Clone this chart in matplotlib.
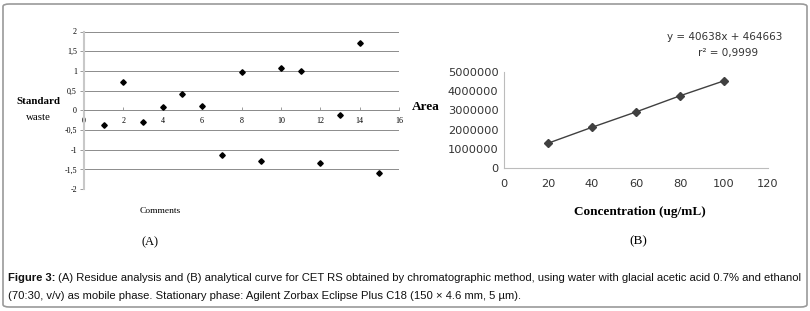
import matplotlib.pyplot as plt
from matplotlib.patches import FancyBboxPatch
from matplotlib.ticker import FuncFormatter

# (A) residue analysis
res_x = [1, 2, 3, 4, 5, 6, 7, 8, 9, 10, 11, 12, 13, 14, 15]
res_y = [-0.37, 0.71, -0.30, 0.08, 0.42, 0.12, -1.13, 0.96, -1.28, 1.08,
         1.00, -1.33, -0.12, 1.70, -1.60]

# (B) analytical curve
conc = [20, 40, 60, 80, 100]
area = [1290000, 2120000, 2920000, 3760000, 4540000]

W, H = 810, 311
fig = plt.figure(figsize=(W / 100, H / 100), dpi=100)

# rounded frame around the whole figure
frame = FancyBboxPatch((3 / W, 4 / H), 804 / W, 303 / H,
                       boxstyle="round,pad=0,rounding_size=0.008",
                       transform=fig.transFigure, fill=False,
                       ec="#9a9a9a", lw=1.2)
fig.patches.append(frame)

serif = "Liberation Serif"

### chart A
axA = fig.add_axes([84 / W, 1 - 189 / H, 315 / W, 157.5 / H])
axA.plot(res_x, res_y, "D", color="black", ms=2.8, ls="none", zorder=3)
axA.set_xlim(0, 16)
axA.set_ylim(-2, 2)
axA.set_yticks([2, 1.5, 1, 0.5, 0, -0.5, -1, -1.5, -2])
axA.set_xticks(range(0, 17, 2))
axA.yaxis.set_major_formatter(FuncFormatter(lambda v, p: ("%g" % v).replace(".", ",")))
axA.grid(axis="y", color="#8c8c8c", lw=0.7)
axA.spines["top"].set_visible(False)
axA.spines["right"].set_visible(False)
axA.spines["left"].set_color("#c8c8c8")
axA.spines["left"].set_linewidth(1.5)
axA.spines["bottom"].set_position(("data", 0))
axA.spines["bottom"].set_color("#8c8c8c")
axA.spines["bottom"].set_linewidth(0.7)
axA.tick_params(axis="y", length=3, width=0.6, color="#8c8c8c", labelsize=5.8, pad=2)
axA.tick_params(axis="x", length=2, width=0.6, color="#8c8c8c", labelsize=5.8, pad=5,
                direction="in")
for lab in axA.get_xticklabels() + axA.get_yticklabels():
    lab.set_family(serif)
axA.set_facecolor("none")

fig.text(38 / W, 1 - 101 / H, "Standard", family=serif, weight="bold",
         fontsize=7.8, ha="center", va="center")
fig.text(38 / W, 1 - 117 / H, "waste", family=serif, fontsize=7.8,
         ha="center", va="center")
fig.text(160 / W, 1 - 211 / H, "Comments", family=serif, fontsize=6.8,
         ha="center", va="center")
fig.text(150 / W, 1 - 242 / H, "(A)", family=serif, fontsize=9,
         ha="center", va="center")

### chart B
axB = fig.add_axes([504 / W, 1 - 168 / H, 264 / W, 96 / H])
axB.plot(conc, area, "-D", color="#404040", ms=4.5, lw=1.0, zorder=3)
axB.set_xlim(0, 120)
axB.set_ylim(0, 5000000)
axB.set_xticks(range(0, 121, 20))
axB.set_yticks(range(0, 5000001, 1000000))
axB.yaxis.set_major_formatter(FuncFormatter(lambda v, p: "%d" % v))
for s in ["top", "right"]:
    axB.spines[s].set_visible(False)
for s in ["left", "bottom"]:
    axB.spines[s].set_color("#bcbcbc")
axB.tick_params(length=0, labelsize=8.2, labelcolor="#333333")
axB.tick_params(axis="x", pad=8)
axB.tick_params(axis="y", pad=4)
axB.set_facecolor("none")

fig.text(725 / W, 1 - 37 / H, "y = 40638x + 464663", fontsize=7.5,
         ha="center", va="center", color="#333333")
fig.text(728 / W, 1 - 53 / H, "r\u00b2 = 0,9999", fontsize=7.5,
         ha="center", va="center", color="#333333")
fig.text(426 / W, 1 - 107 / H, "Area", family=serif, weight="bold",
         fontsize=9.5, ha="center", va="center")
fig.text(640 / W, 1 - 212 / H, "Concentration (ug/mL)", family=serif,
         weight="bold", fontsize=9.5, ha="center", va="center")
fig.text(638 / W, 1 - 241 / H, "(B)", family=serif, fontsize=9.5,
         ha="center", va="center")

### caption
cap1 = ("(A) Residue analysis and (B) analytical curve for CET RS obtained by "
        "chromatographic method, using water with glacial acetic acid 0.7% and ethanol")
cap2 = ("(70:30, v/v) as mobile phase. Stationary phase: Agilent Zorbax Eclipse "
        "Plus C18 (150 \u00d7 4.6 mm, 5 \u00b5m).")
t = fig.text(8 / W, 1 - 278 / H, "Figure 3:", family="Liberation Sans",
             weight="bold", fontsize=8.1, va="center", color="#111111")
fig.canvas.draw()
bb = t.get_window_extent()
fig.text((bb.x1 + 3) / W, 1 - 278 / H, cap1, family="Liberation Sans",
         fontsize=8.1, va="center", color="#111111")
fig.text(8 / W, 1 - 296 / H, cap2, family="Liberation Sans",
         fontsize=8.1, va="center", color="#111111")

fig.savefig("out.png", dpi=100)
